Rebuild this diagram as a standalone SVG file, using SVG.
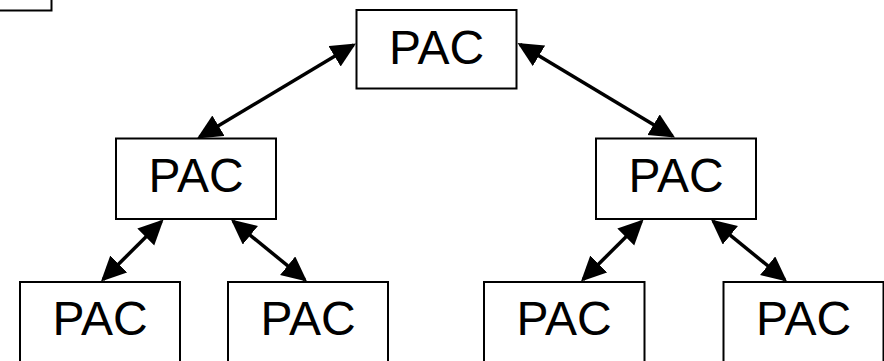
<svg xmlns="http://www.w3.org/2000/svg" width="884" height="361" viewBox="0 0 884 361">
  <style>
    .box { fill: #ffffff; stroke: #000000; stroke-width: 2; }
    .lbl { font-family: "Liberation Sans", Arial, sans-serif; font-size: 48px; fill: #000000; text-anchor: middle; }
    .conn { stroke: #000000; stroke-width: 3.5; fill: none; marker-start: url(#ah); marker-end: url(#ah); }
  </style>
  <defs>
    <marker id="ah" markerUnits="userSpaceOnUse" markerWidth="26" markerHeight="25" refX="22" refY="12" orient="auto-start-reverse" viewBox="0 0 26 25">
      <path d="M0,0 L25,12 L0,24 Z" fill="#000000"/>
    </marker>
  </defs>
  <rect width="884" height="361" fill="#ffffff"/>

  <g id="fragment">
    <rect class="box" x="-10" y="-10" width="61.5" height="20.5"/>
  </g>

  <g id="pac-top">
    <rect class="box" x="356.5" y="10" width="160" height="78.5"/>
    <text class="lbl" x="436.5" y="64">PAC</text>
  </g>
  <g id="pac-mid-left">
    <rect class="box" x="116" y="138.5" width="160" height="80.5"/>
    <text class="lbl" x="196" y="192">PAC</text>
  </g>
  <g id="pac-mid-right">
    <rect class="box" x="596" y="138.5" width="160" height="80.5"/>
    <text class="lbl" x="676" y="192">PAC</text>
  </g>
  <g id="pac-bottom-1">
    <rect class="box" x="20" y="282" width="160" height="82"/>
    <text class="lbl" x="100" y="335">PAC</text>
  </g>
  <g id="pac-bottom-2">
    <rect class="box" x="228" y="282" width="160" height="82"/>
    <text class="lbl" x="308" y="335">PAC</text>
  </g>
  <g id="pac-bottom-3">
    <rect class="box" x="484" y="282" width="160.5" height="82"/>
    <text class="lbl" x="564" y="335">PAC</text>
  </g>
  <g id="pac-bottom-4">
    <rect class="box" x="723.5" y="282" width="160" height="82"/>
    <text class="lbl" x="803.5" y="335">PAC</text>
  </g>

  <g id="connectors">
    <line class="conn" x1="353.4" y1="45.0" x2="199.6" y2="137.0"/>
    <line class="conn" x1="520.1" y1="44.5" x2="672.4" y2="136.0"/>
    <line class="conn" x1="161.4" y1="221.6" x2="103.1" y2="279.4"/>
    <line class="conn" x1="233.3" y1="221.4" x2="304.7" y2="279.6"/>
    <line class="conn" x1="641.4" y1="221.6" x2="583.1" y2="279.4"/>
    <line class="conn" x1="713.3" y1="221.4" x2="784.7" y2="279.6"/>
  </g>
</svg>
